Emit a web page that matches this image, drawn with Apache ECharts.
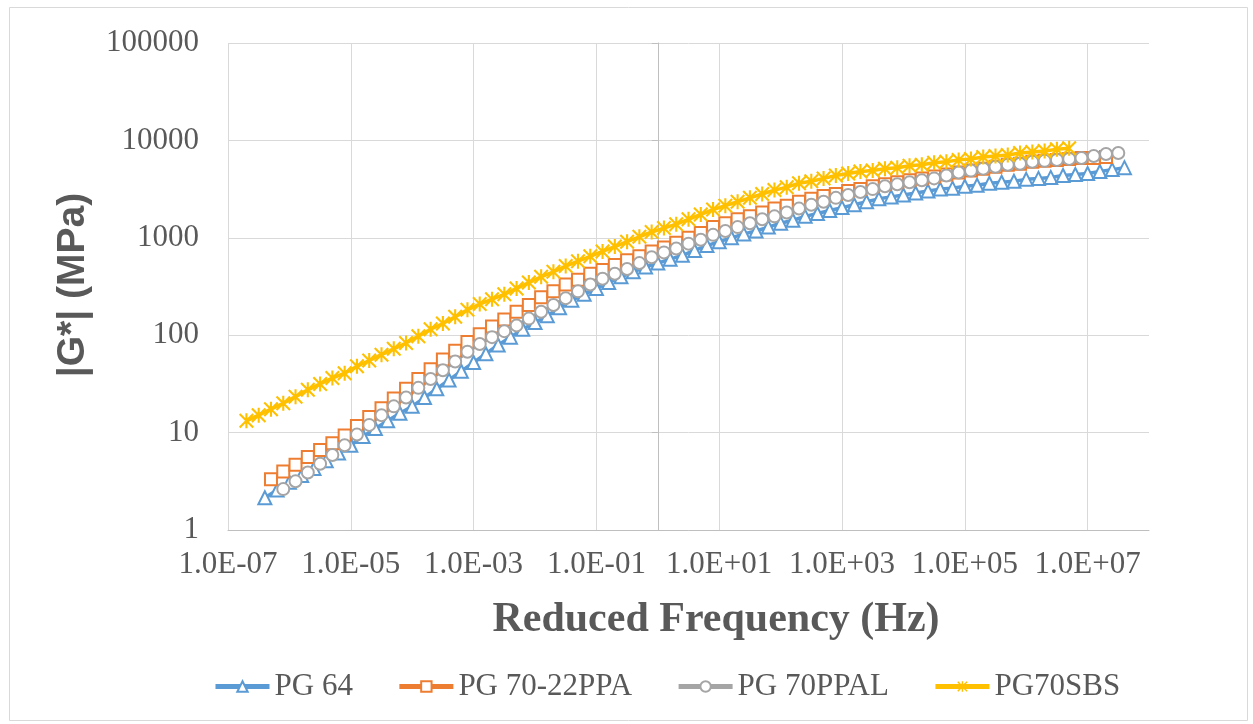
<!DOCTYPE html>
<html><head><meta charset="utf-8">
<script src="https://cdn.jsdelivr.net/npm/echarts@6/dist/echarts.min.js"></script>
<style>html,body{margin:0;padding:0;background:#fff}#c{width:1253px;height:724px}</style>
</head><body><div id="c"></div>
<script>
// ---- data (x = log10 of reduced frequency in Hz, y = |G*| in MPa) ----
const seriesNames = ['PG 64', 'PG 70-22PPA', 'PG 70PPAL', 'PG70SBS'];
const xTickExps = [-7, -5, -3, -1, 1, 3, 5, 7];
const xTickLabels = ['1.0E-07', '1.0E-05', '1.0E-03', '1.0E-01', '1.0E+01', '1.0E+03', '1.0E+05', '1.0E+07'];
const yTickLabels = ['1', '10', '100', '1000', '10000', '100000'];

const pg64LogFreq = [-6.4,-6.2,-6.0,-5.8,-5.6,-5.4,-5.2,-5.0,-4.8,-4.6,-4.4,-4.2,-4.0,-3.8,-3.6,-3.4,-3.2,-3.0,-2.8,-2.6,-2.4,-2.2,-2.0,-1.8,-1.6,-1.4,-1.2,-1.0,-0.8,-0.6,-0.4,-0.2,0.0,0.2,0.4,0.6,0.8,1.0,1.2,1.4,1.6,1.8,2.0,2.2,2.4,2.6,2.8,3.0,3.2,3.4,3.6,3.8,4.0,4.2,4.4,4.6,4.8,5.0,5.2,5.4,5.6,5.8,6.0,6.2,6.4,6.6,6.8,7.0,7.2,7.4,7.6];
const pg64G = [2.14,2.57,3.09,3.63,4.27,5.13,6.17,7.41,9.12,11.0,13.2,15.8,18.6,22.9,28.2,34.7,42.7,52.5,64.6,79.4,95.5,115,135,158,191,229,263,302,347,398,447,501,550,603,661,741,832,912,1000,1096,1175,1288,1413,1514,1660,1778,1905,2042,2188,2344,2512,2630,2754,2884,3020,3162,3236,3388,3467,3631,3715,3802,3981,4074,4169,4365,4467,4571,4786,5012,5248];

const pg7022LogFreq = [-6.3,-6.1,-5.9,-5.7,-5.5,-5.3,-5.1,-4.9,-4.7,-4.5,-4.3,-4.1,-3.9,-3.7,-3.5,-3.3,-3.1,-2.9,-2.7,-2.5,-2.3,-2.1,-1.9,-1.7,-1.5,-1.3,-1.1,-0.9,-0.7,-0.5,-0.3,-0.1,0.1,0.3,0.5,0.7,0.9,1.1,1.3,1.5,1.7,1.9,2.1,2.3,2.5,2.7,2.9,3.1,3.3,3.5,3.7,3.9,4.1,4.3,4.5,4.7,4.9,5.1,5.3,5.5,5.7,5.9,6.1,6.3,6.5,6.7,6.9,7.1,7.3];
const pg7022G = [3.31,3.98,4.68,5.62,6.61,7.76,9.33,11.7,14.5,17.8,22.4,28.2,35.5,44.7,56.2,69.2,85.1,102,123,145,174,204,245,282,331,372,427,468,525,589,646,724,794,891,1000,1122,1288,1413,1549,1660,1820,1995,2138,2344,2512,2692,2818,3020,3162,3388,3548,3715,3890,4074,4266,4467,4677,4898,5129,5370,5623,5754,6026,6166,6310,6457,6607,6607,6761];

const pg70alLogFreq = [-6.1,-5.9,-5.7,-5.5,-5.3,-5.1,-4.9,-4.7,-4.5,-4.3,-4.1,-3.9,-3.7,-3.5,-3.3,-3.1,-2.9,-2.7,-2.5,-2.3,-2.1,-1.9,-1.7,-1.5,-1.3,-1.1,-0.9,-0.7,-0.5,-0.3,-0.1,0.1,0.3,0.5,0.7,0.9,1.1,1.3,1.5,1.7,1.9,2.1,2.3,2.5,2.7,2.9,3.1,3.3,3.5,3.7,3.9,4.1,4.3,4.5,4.7,4.9,5.1,5.3,5.5,5.7,5.9,6.1,6.3,6.5,6.7,6.9,7.1,7.3,7.5];
const pg70alG = [2.63,3.16,3.89,4.79,5.89,7.41,9.55,12.0,15.1,18.6,22.9,28.8,35.5,43.7,53.7,67.6,81.3,95.5,110,126,148,174,204,240,282,331,380,427,479,550,631,708,776,871,955,1072,1175,1288,1413,1549,1660,1820,1995,2188,2344,2570,2754,2951,3162,3388,3548,3715,3890,4074,4365,4677,4898,5129,5370,5623,5754,6026,6166,6310,6457,6607,6918,7244,7413];

const sbsLogFreq = [-6.7,-6.5,-6.3,-6.1,-5.9,-5.7,-5.5,-5.3,-5.1,-4.9,-4.7,-4.5,-4.3,-4.1,-3.9,-3.7,-3.5,-3.3,-3.1,-2.9,-2.7,-2.5,-2.3,-2.1,-1.9,-1.7,-1.5,-1.3,-1.1,-0.9,-0.7,-0.5,-0.3,-0.1,0.1,0.3,0.5,0.7,0.9,1.1,1.3,1.5,1.7,1.9,2.1,2.3,2.5,2.7,2.9,3.1,3.3,3.5,3.7,3.9,4.1,4.3,4.5,4.7,4.9,5.1,5.3,5.5,5.7,5.9,6.1,6.3,6.5,6.7];
const sbsG = [13.2,15.1,17.4,20.0,23.4,27.5,31.6,36.3,40.7,47.9,55.0,63.1,72.4,83.2,97.7,115,132,155,182,209,234,263,302,347,398,447,513,575,646,724,813,912,1023,1148,1259,1380,1549,1738,1950,2138,2344,2570,2818,3090,3311,3631,3802,4074,4365,4571,4786,4898,5129,5248,5495,5623,5888,6026,6310,6457,6761,6918,7079,7413,7586,7762,8128,8318];

// ---- styling ----
const colors = ['#5B9BD5', '#ED7D31', '#A5A5A5', '#FFC000'];
const textColor = '#595959';
const asterisk = 'path://M8.6,0L11.4,0L11.4,20L8.6,20Z M0,2L2,0L20,18L18,20Z M18,0L20,2L2,20L0,18Z';

function pairs(xs, ys) { return xs.map((x, i) => [x, ys[i]]); }
function fmtX(v) {
  const r = Math.round(v);
  const i = xTickExps.indexOf(r);
  return (i >= 0 && Math.abs(v - r) < 1e-6) ? xTickLabels[i] : '';
}

function lineSeries(name, data, color, symbol, size, hollow) {
  return {
    name, type: 'line', data, symbol, symbolSize: size, showSymbol: true,
    animation: false, clip: false,
    lineStyle: { color, width: 3.5 },
    itemStyle: hollow ? { color: '#ffffff', borderColor: color, borderWidth: 2 }
                      : { color, borderWidth: 0 },
    emphasis: { disabled: true }
  };
}

const chart = echarts.init(document.getElementById('c'), null, { renderer: 'canvas' });
chart.setOption({
  backgroundColor: '#ffffff',
  textStyle: { fontFamily: 'Liberation Serif' },
  grid: { left: 228, right: 104, top: 43, bottom: 194, containLabel: false },
  xAxis: {
    // ticks counted from min: -7, -5, ..., 7 (then the max, 8)
    type: 'value', min: -7, max: 8, interval: 2,
    axisLine: { show: true, onZero: false, lineStyle: { color: '#bfbfbf', width: 1 } },
    axisTick: { show: false },
    axisLabel: { formatter: fmtX, fontFamily: 'Liberation Serif', fontSize: 31, color: textColor, margin: 19,
                 showMaxLabel: false },
    splitLine: { show: true, showMaxLine: false, lineStyle: { color: '#d9d9d9', width: 1 } }
  },
  yAxis: [
    {
      type: 'log', logBase: 10, min: 1, max: 100000, position: 'left',
      axisLine: { show: false, onZero: false },
      axisTick: { show: false },
      axisLabel: {
        formatter: v => { const e = Math.round(Math.log10(v)); return yTickLabels[e] || ''; },
        fontFamily: 'Liberation Serif', fontSize: 31, color: textColor, margin: 29
      },
      splitLine: { show: true, lineStyle: { color: '#d9d9d9', width: 1 } }
    },
    {
      type: 'log', logBase: 10, min: 1, max: 100000, position: 'left',
      axisLine: { show: true, onZero: true, onZeroAxisIndex: 0, lineStyle: { color: '#bfbfbf', width: 1 } },
      axisTick: { show: true, inside: false, length: 6, lineStyle: { color: '#bfbfbf' } },
      axisLabel: { show: false },
      splitLine: { show: false }
    }
  ],
  legend: {
    data: seriesNames, left: 208, top: 666, itemGap: 44, itemWidth: 54, itemHeight: 13,
    lineStyle: { width: 5 },
    textStyle: { fontFamily: 'Liberation Serif', fontSize: 31, color: textColor }
  },
  graphic: [
    { type: 'rect', left: 7, top: 5, shape: { width: 1238, height: 713 },
      style: { fill: 'none', stroke: '#d9d9d9', lineWidth: 1 }, silent: true, z: -10 },
    { type: 'text', x: 716, y: 620,
      style: { text: 'Reduced Frequency (Hz)', fill: textColor, font: 'bold 42px "Liberation Serif"',
               textAlign: 'center', textVerticalAlign: 'middle' } },
    { type: 'text', x: 73, y: 285, rotation: Math.PI / 2,
      style: { text: '|G*| (MPa)', fill: textColor, font: 'bold 39px "Liberation Sans"',
               textAlign: 'center', textVerticalAlign: 'middle' } }
  ],
  series: [
    lineSeries(seriesNames[0], pairs(pg64LogFreq, pg64G), colors[0], 'triangle', 13, true),
    lineSeries(seriesNames[1], pairs(pg7022LogFreq, pg7022G), colors[1], 'rect', 12, true),
    lineSeries(seriesNames[2], pairs(pg70alLogFreq, pg70alG), colors[2], 'circle', 12, true),
    lineSeries(seriesNames[3], pairs(sbsLogFreq, sbsG), colors[3], asterisk, 15, false)
  ]
});
</script>
</body></html>
